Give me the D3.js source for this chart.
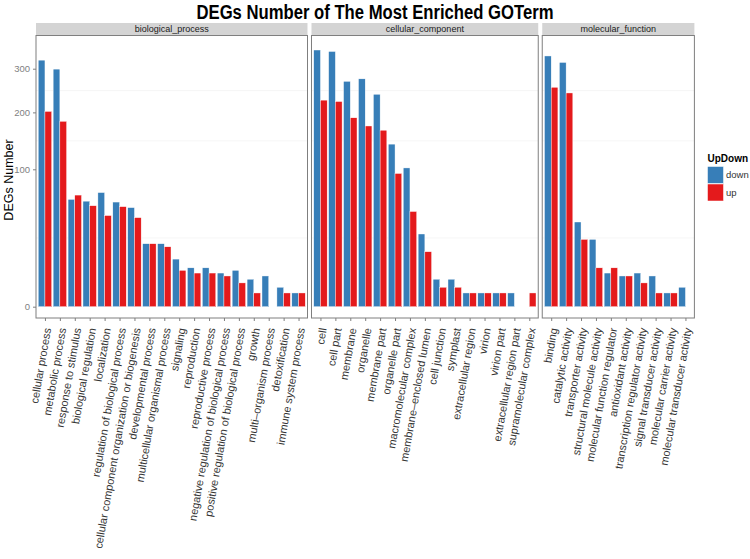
<!DOCTYPE html>
<html><head><meta charset="utf-8">
<script src="https://cdn.jsdelivr.net/npm/d3@7"></script>
<style>body{margin:0;background:#fff}svg{display:block}</style>
</head><body><svg id="c" width="750" height="559"></svg>
<script>
const facets = ["biological_process","cellular_component","molecular_function"];
const bpCats = ["cellular process","metabolic process","response to stimulus","biological regulation","localization","regulation of biological process","cellular component organization or biogenesis","developmental process","multicellular organismal process","signaling","reproduction","reproductive process","negative regulation of biological process","positive regulation of biological process","growth","multi\u2013organism process","detoxification","immune system process"];
const bpDown = [322,299,61,59,69,58,52,21,21,12,8,8,6,7,4,5,2,1];
const bpUp   = [202,182,66,54,44,53,42,21,19,7,6,6,5,3,1,0,1,1];
const ccCats = ["cell","cell part","membrane","organelle","membrane part","organelle part","macromolecular complex","membrane\u2013enclosed lumen","cell junction","symplast","extracellular region","virion","virion part","extracellular region part","supramolecular complex"];
const ccDown = [349,345,269,275,239,140,102,28,4,4,1,1,1,1,0];
const ccUp   = [226,223,189,173,165,94,48,16,2,2,1,1,1,0,1];
const mfCats = ["binding","catalytic activity","transporter activity","structural molecule activity","molecular function regulator","antioxidant activity","transcription regulator activity","signal transducer activity","molecular carrier activity","molecular transducer activity"];
const mfDown = [333,316,38,24,6,5,6,5,1,2];
const mfUp   = [255,242,24,8,8,5,3,1,1,0];
const yTicks = [0,100,200,300];
const minorTicks = [25,145.7,247.4];
const groups = ["down","up"];
const colors = ["#377EB8","#E41A1C"];

const panelData = [
  {name:facets[0], cats:bpCats, down:bpDown, up:bpUp},
  {name:facets[1], cats:ccCats, down:ccDown, up:ccUp},
  {name:facets[2], cats:mfCats, down:mfDown, up:mfUp}
];

(function(){
const svg = d3.select("#c");
const pLeft = 36, pRight = 694.4, gap = 4, pTop = 35.5, pBottom = 318;
const stripTop = 23;
const units = panelData.map(p => p.cats.length - 1 + 1.2);
const step = (pRight - pLeft - gap*2) / d3.sum(units);
const y = d3.scaleSqrt().domain([0, 349]).range([306.7, 306.7 - Math.sqrt(349)*13.74]);

svg.append("text").attr("x", 375).attr("y", 19).attr("text-anchor","middle")
  .attr("font-family","Liberation Sans, Arial, sans-serif").attr("font-weight","bold")
  .attr("font-size", 20).attr("textLength", 357).attr("lengthAdjust","spacingAndGlyphs")
  .attr("fill","#000").text("DEGs Number of The Most Enriched GOTerm");

let x0 = pLeft;
panelData.forEach((p, i) => {
  const w = units[i]*step;
  const g = svg.append("g");
  const xs = d3.scalePoint().domain(p.cats).range([x0 + 0.6*step, x0 + w - 0.6*step]);
  const xsub = d3.scaleBand().domain(groups).range([-0.45*step, 0.45*step]);
  g.append("rect").attr("x", x0).attr("y", stripTop).attr("width", w).attr("height", pTop - stripTop)
    .attr("fill","#d4d4d4");
  g.append("text").attr("x", x0 + w/2).attr("y", stripTop + 9).attr("text-anchor","middle")
    .attr("font-family","Liberation Sans, Arial, sans-serif").attr("font-size", 9).attr("fill","#1a1a1a")
    .text(p.name);
  g.selectAll(".mg").data(minorTicks).join("line")
    .attr("x1", x0).attr("x2", x0 + w).attr("y1", d => y(d)).attr("y2", d => y(d))
    .attr("stroke","#f0f0f0").attr("stroke-width",0.6);
  groups.forEach((gr, k) => {
    const vals = gr === "down" ? p.down : p.up;
    g.selectAll(".b"+k).data(p.cats.map((c, j) => ({c, v: vals[j]})).filter(d => d.v > 0)).join("rect")
      .attr("x", d => xs(d.c) + xsub(gr)).attr("width", xsub.bandwidth())
      .attr("y", d => y(d.v)).attr("height", d => y(0) - y(d.v))
      .attr("fill", colors[k]).attr("stroke","#fff").attr("stroke-width",0.4);
  });
  g.append("rect").attr("x", x0).attr("y", pTop).attr("width", w).attr("height", pBottom - pTop)
    .attr("fill","none").attr("stroke","#7f7f7f").attr("stroke-width",1);
  const ax = g.append("g").attr("transform", `translate(0,${pBottom})`)
    .call(d3.axisBottom(xs).tickSize(3).tickSizeOuter(0));
  ax.select(".domain").remove();
  ax.selectAll(".tick line").attr("stroke","#7f7f7f");
  ax.selectAll(".tick text").attr("font-family","Liberation Sans, Arial, sans-serif").attr("font-size", 11)
    .attr("fill","#333").attr("text-anchor","end").attr("dy","0.35em")
    .attr("transform","translate(2,10) rotate(-80)").attr("x",0).attr("y",0);
  x0 += w + gap;
});

const ay = svg.append("g").attr("transform", `translate(${pLeft},0)`)
  .call(d3.axisLeft(y).tickValues(yTicks).tickSize(3).tickSizeOuter(0));
ay.select(".domain").remove();
ay.selectAll(".tick line").attr("stroke","#7f7f7f");
ay.selectAll(".tick text").attr("font-family","Liberation Sans, Arial, sans-serif").attr("font-size", 9.5)
  .attr("fill","#7f7f7f");

svg.append("text").attr("transform","translate(13,180) rotate(-90)").attr("text-anchor","middle")
  .attr("font-family","Liberation Sans, Arial, sans-serif").attr("font-size", 12.5).attr("fill","#000")
  .text("DEGs Number");

const lg = svg.append("g");
lg.append("text").attr("x", 707.5).attr("y", 162).attr("font-family","Liberation Sans, Arial, sans-serif")
  .attr("font-weight","bold").attr("font-size", 10).attr("fill","#000").text("UpDown");
groups.forEach((gr, k) => {
  lg.append("rect").attr("x", 707.5).attr("y", 166.5 + k*17.5).attr("width", 16).attr("height", 17)
    .attr("fill", colors[k]).attr("stroke","#fff").attr("stroke-width",0.5);
  lg.append("text").attr("x", 726).attr("y", 175 + k*17.5).attr("dy","0.35em")
    .attr("font-family","Liberation Sans, Arial, sans-serif").attr("font-size", 9.5).attr("fill","#333").text(gr);
});
})();
</script></body></html>
